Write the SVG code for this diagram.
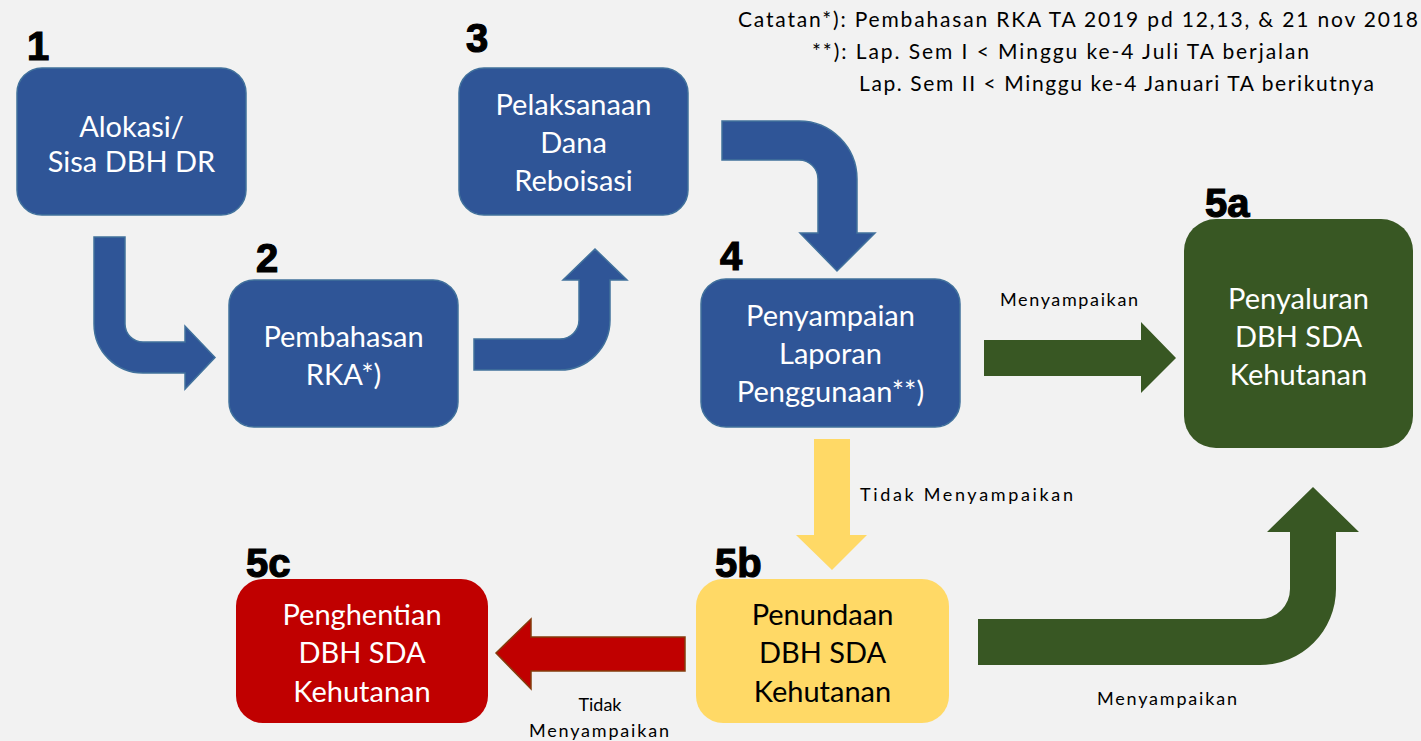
<svg xmlns="http://www.w3.org/2000/svg" width="1421" height="741" viewBox="0 0 1421 741">
<style>
.bg{fill:#F2F2F2}
.blue{fill:#2F5597;stroke:#41719C;stroke-width:1.5}
.green{fill:#385723}
.yellow{fill:#FFD966}
.red{fill:#C00000}
.redarrow{fill:#C00000;stroke:#843C0C;stroke-width:1.5}
.nt{font-family:Lato,"Liberation Sans",sans-serif;font-size:29px;fill:#FFFFFF;text-anchor:middle}
.ntd{font-family:Lato,"Liberation Sans",sans-serif;font-size:29px;fill:#000000;text-anchor:middle}
.num{font-family:"Liberation Sans",Arial,sans-serif;font-size:40px;font-weight:bold;fill:#000;stroke:#000;stroke-width:1.2}
.lbl{font-family:Lato,"Liberation Sans",sans-serif;font-size:18px;fill:#000}
.note{font-family:Lato,"Liberation Sans",sans-serif;font-size:21px;fill:#000}
</style>
<rect class="bg" x="0" y="0" width="1421" height="741"/>

<g id="connectors">
<path id="c1-2" class="blue" d="M94,237 H125 V324 A18,18 0 0 0 143,342 H185 V326 L215,357.5 L185,389 V373 H143 A49,49 0 0 1 94,324 Z"/>
<path id="c2-3" class="blue" d="M474,339 H560 A19,19 0 0 0 579,320 V280 H563 L595,249 L627,280 H610 V320 A50,50 0 0 1 560,370 H474 Z"/>
<path id="c3-4" class="blue" d="M722,121 H799 A58,58 0 0 1 857,179 V233 H875 L837,271 L800,233 H818 V179 A19,19 0 0 0 799,160 H722 Z"/>
<path id="c4-5a" class="green" d="M984,340 H1141 V322 L1176,358 L1141,393 V376 H984 Z"/>
<path id="c4-5b" class="yellow" d="M814,439 H850 V535 H867 L832,570 L796,535 H814 Z"/>
<path id="c5b-5c" class="redarrow" d="M685,637 V671 H531 V689 L496,653 L531,619 V637 Z"/>
<path id="c5b-5a" class="green" d="M978,619 H1260 A30,30 0 0 0 1290,589 V532 H1267 L1313,487 L1359,532 H1336 V589 A76,76 0 0 1 1260,665 H978 Z"/>
<text class="lbl" x="1000" y="306" textLength="138" lengthAdjust="spacing">Menyampaikan</text>
<text class="lbl" x="860" y="501" textLength="213" lengthAdjust="spacing">Tidak Menyampaikan</text>
<text class="lbl" x="1097" y="705" textLength="140" lengthAdjust="spacing">Menyampaikan</text>
<text class="lbl" x="600" y="711" text-anchor="middle">Tidak</text>
<text class="lbl" x="529" y="737" textLength="140" lengthAdjust="spacing">Menyampaikan</text>
</g>

<g id="node1">
<rect class="blue" x="17" y="68" width="229" height="147" rx="25"/>
<text class="nt" x="131.5" y="137">Alokasi/</text>
<text class="nt" x="131.5" y="172">Sisa DBH DR</text>
<text class="num" x="27" y="60">1</text>
</g>

<g id="node2">
<rect class="blue" x="229" y="280" width="229" height="147" rx="25"/>
<text class="nt" x="343.5" y="347">Pembahasan</text>
<text class="nt" x="343.5" y="385">RKA*)</text>
<text class="num" x="256" y="272">2</text>
</g>

<g id="node3">
<rect class="blue" x="459" y="68" width="229" height="147" rx="25"/>
<text class="nt" x="573.5" y="115">Pelaksanaan</text>
<text class="nt" x="573.5" y="153">Dana</text>
<text class="nt" x="573.5" y="191">Reboisasi</text>
<text class="num" x="466" y="52">3</text>
</g>

<g id="node4">
<rect class="blue" x="701" y="279" width="259" height="148" rx="25"/>
<text class="nt" x="830.5" y="326">Penyampaian</text>
<text class="nt" x="830.5" y="364">Laporan</text>
<text class="nt" x="830.5" y="402">Penggunaan**)</text>
<text class="num" x="720" y="270">4</text>
</g>

<g id="node5a">
<rect class="green" x="1184" y="219" width="229" height="229" rx="32"/>
<text class="nt" x="1298.5" y="309">Penyaluran</text>
<text class="nt" x="1298.5" y="347">DBH SDA</text>
<text class="nt" x="1298.5" y="385">Kehutanan</text>
<text class="num" x="1205" y="217">5a</text>
</g>

<g id="node5b">
<rect class="yellow" x="696" y="579" width="253" height="144" rx="27"/>
<text class="ntd" x="822.5" y="625">Penundaan</text>
<text class="ntd" x="822.5" y="663">DBH SDA</text>
<text class="ntd" x="822.5" y="702">Kehutanan</text>
<text class="num" x="715" y="577">5b</text>
</g>

<g id="node5c">
<rect class="red" x="236" y="579" width="252" height="144" rx="27"/>
<text class="nt" x="362" y="625">Penghentian</text>
<text class="nt" x="362" y="663">DBH SDA</text>
<text class="nt" x="362" y="702">Kehutanan</text>
<text class="num" x="246" y="577">5c</text>
</g>

<g id="notes">
<text class="note" x="738" y="27" textLength="680" lengthAdjust="spacing">Catatan*):  Pembahasan RKA TA  2019 pd 12,13, &amp; 21 nov 2018</text>
<text class="note" x="812" y="59" textLength="497" lengthAdjust="spacing">**): Lap. Sem I  &lt; Minggu ke-4 Juli TA berjalan</text>
<text class="note" x="859" y="91" textLength="515" lengthAdjust="spacing">Lap. Sem II &lt; Minggu ke-4  Januari TA berikutnya</text>
</g>
</svg>
